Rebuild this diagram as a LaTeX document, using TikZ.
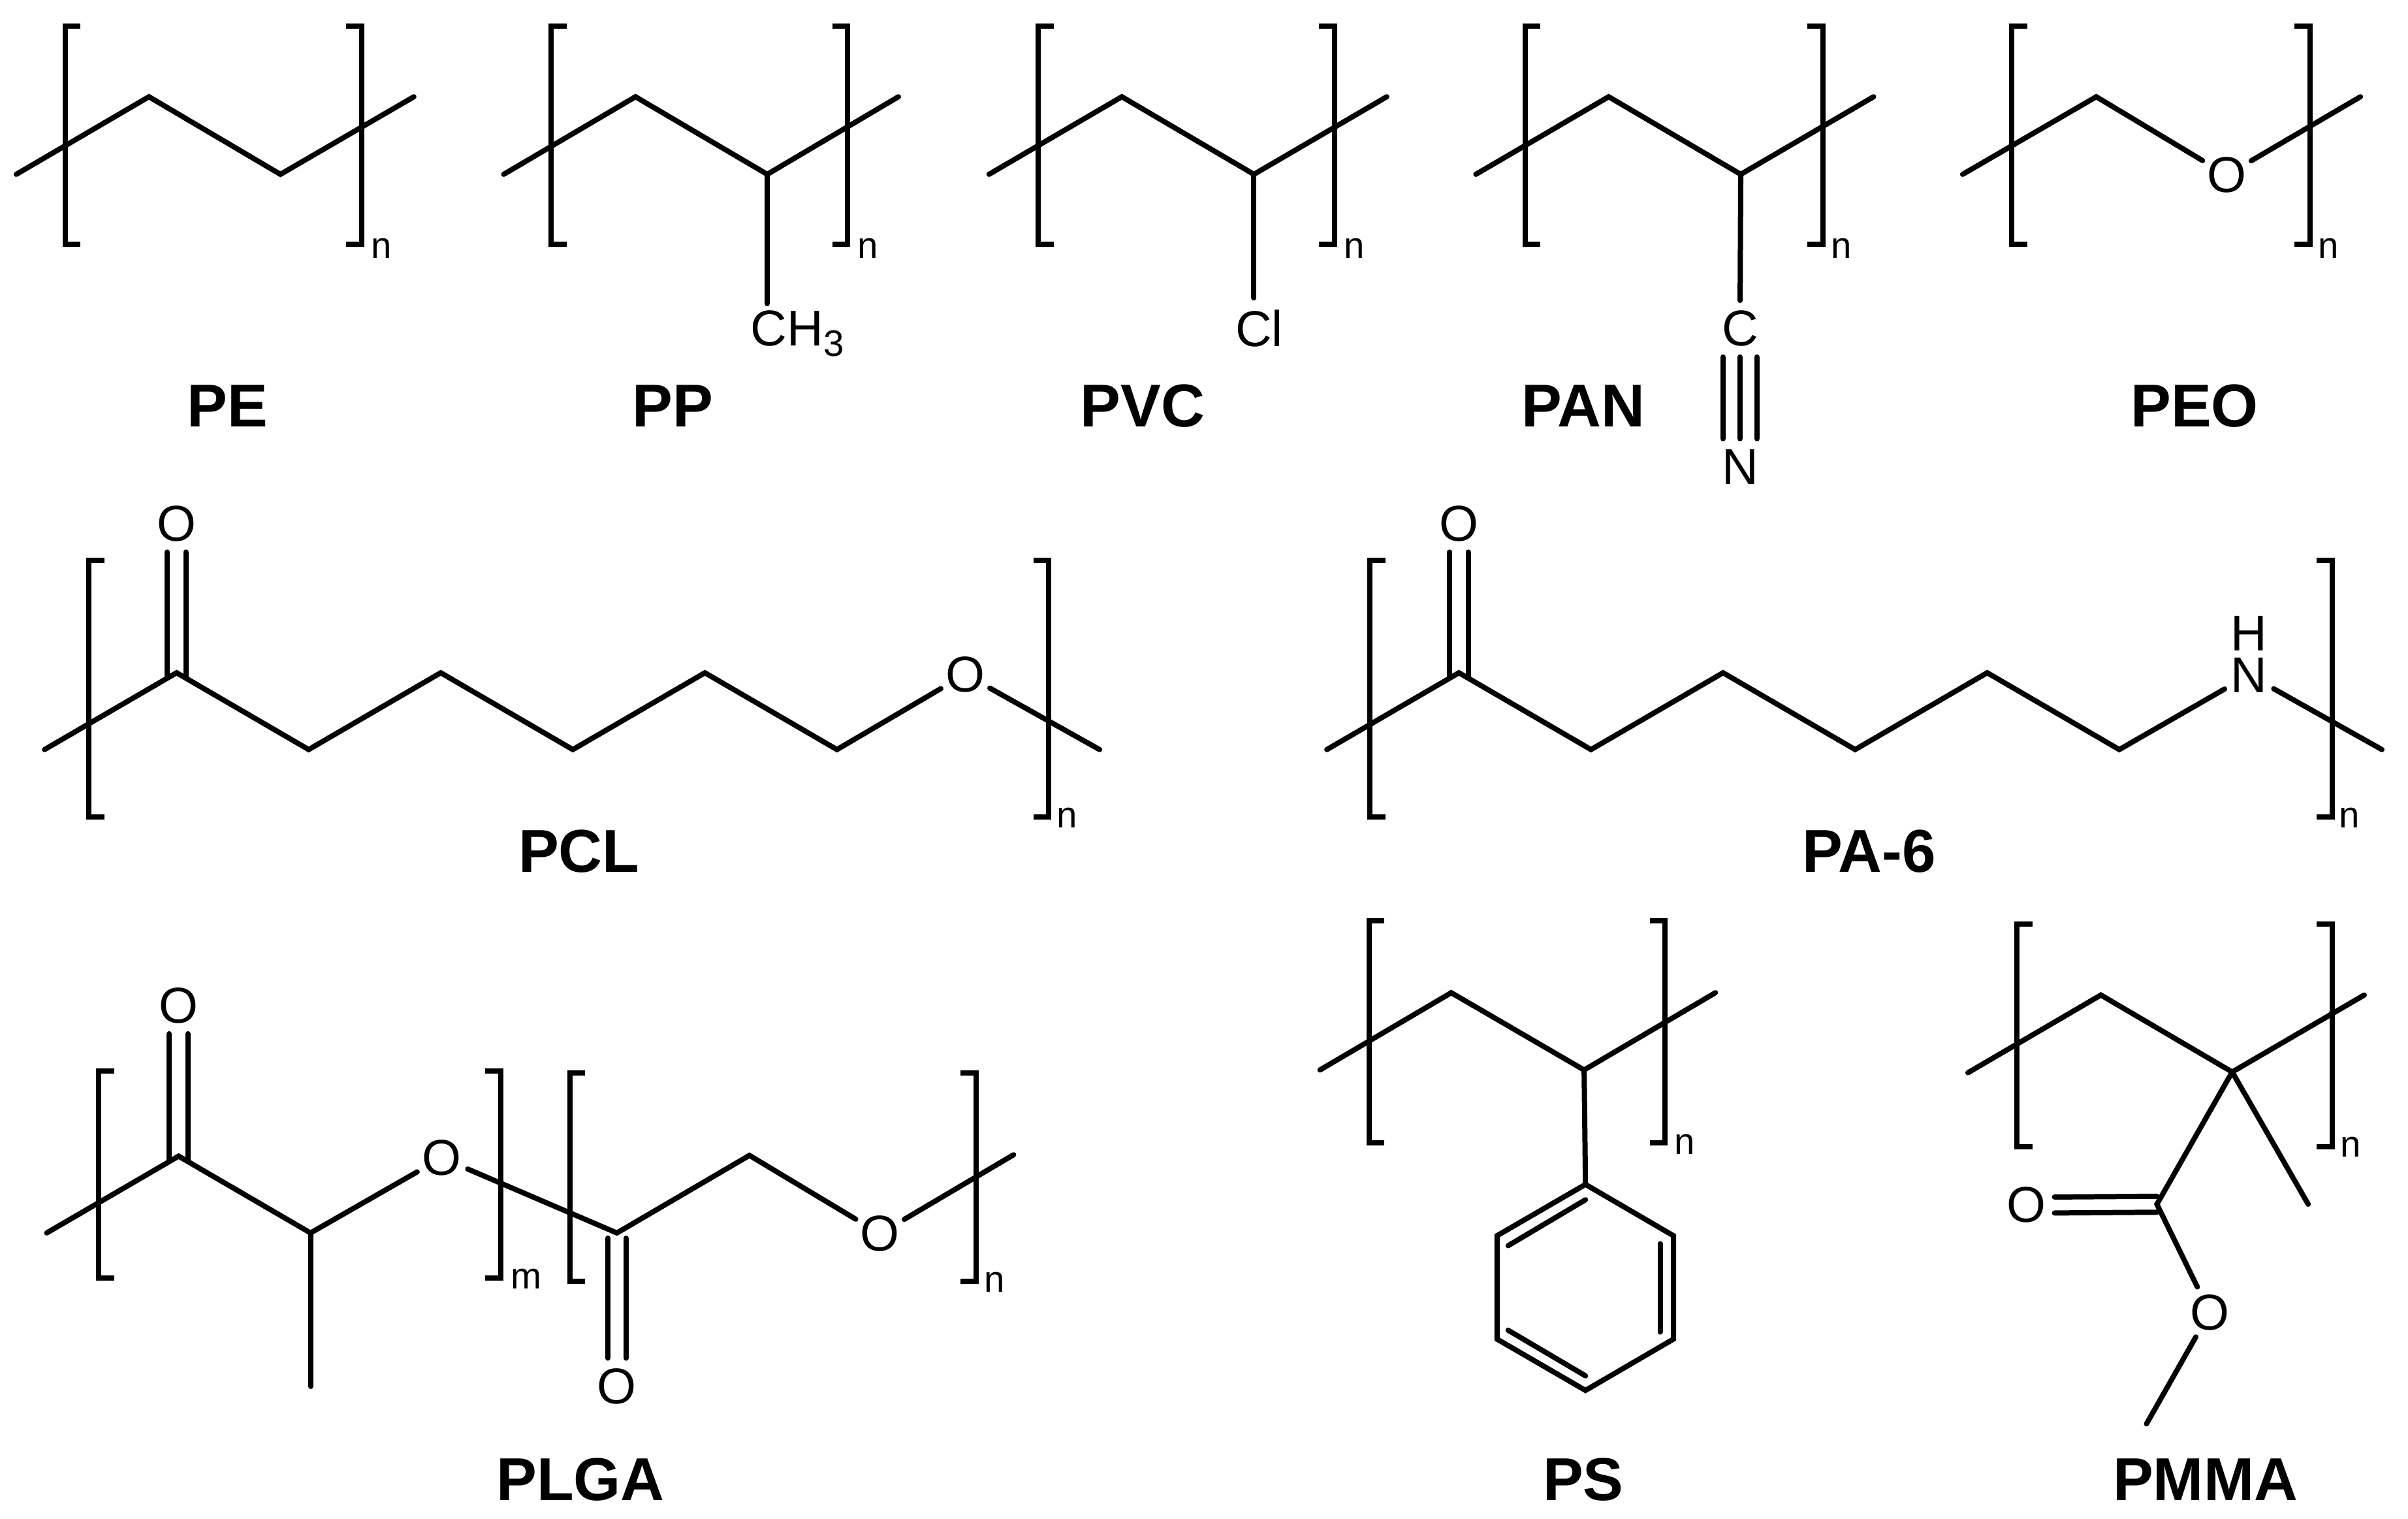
\documentclass[tikz,border=0pt]{standalone}
\usepackage{fontspec}
\setmainfont{Liberation Sans}
\newcommand{\brk}[4]{\draw[bracket] ({#1+#4},#2) -- (#1,#2) -- (#1,#3) -- ({#1+#4},#3);}
\newcommand{\dbl}[4]{%
  \draw[bond] ([xshift=-#3pt]#1.south) -- ([xshift=-#3pt,yshift=#4pt]#2);
  \draw[bond] ([xshift=#3pt]#1.south) -- ([xshift=#3pt,yshift=#4pt]#2);}
\tikzset{
  bond/.style={line width=1.7pt,line cap=round,line join=miter,black},
  bracket/.style={line width=1.7pt,line cap=butt,line join=miter,black},
  atom/.style={circle,inner sep=0pt,minimum size=18pt,font=\fontsize{16.4}{16.4}\selectfont},
  freetext/.style={inner xsep=0pt,inner ysep=2pt,font=\fontsize{16.4}{16.4}\selectfont},
  idx/.style={inner sep=0pt,anchor=base,font=\fontsize{12}{12}\selectfont},
  polyname/.style={inner sep=0pt,anchor=base,font=\fontsize{19.7}{19.7}\selectfont\bfseries},
}
\begin{document}
\begin{tikzpicture}[x=0.5pt,y=-0.5pt]
\useasboundingbox (0,0) rectangle (1568,988.9);
% ---------- PE
\coordinate (pe1) at (10.6,113.5); \coordinate (pe2) at (97,63); \coordinate (pe3) at (182.6,113.5); \coordinate (pe4) at (269.5,63);
\draw[bond] (pe1) -- (pe2) -- (pe3) -- (pe4);
\brk{42.5}{17}{159}{10}\brk{235.5}{17}{159}{-10}
\node[idx] (nPE) at (248.5,168) {n};
\node[polyname] (lPE) at (148,278) {PE};
% ---------- PP
\coordinate (pp1) at (328,113.5); \coordinate (pp2) at (413.8,63); \coordinate (pp3) at (499.6,113.5); \coordinate (pp4) at (585,63);
\draw[bond] (pp1) -- (pp2) -- (pp3) -- (pp4);
\brk{359}{17}{159}{10}\brk{552}{17}{159}{-10}
\node[idx] (nPP) at (565,168) {n};
\node[freetext,anchor=base west] (ch3) at (488.5,225) {CH\raisebox{-3.5pt}{\fontsize{12}{12}\selectfont 3}};
\draw[bond] (pp3) -- (pp3 |- ch3.north);
\node[polyname] (lPP) at (438,278) {PP};
% ---------- PVC
\coordinate (pvc1) at (644,113.5); \coordinate (pvc2) at (730.5,63); \coordinate (pvc3) at (816.5,113.5); \coordinate (pvc4) at (903,63);
\draw[bond] (pvc1) -- (pvc2) -- (pvc3) -- (pvc4);
\brk{676}{17}{159}{10}\brk{869}{17}{159}{-10}
\node[idx] (nPVC) at (882,168) {n};
\node[atom] (cl) at (820,214) {Cl};
\draw[bond] (pvc3) -- (pvc3 |- cl.north);
\node[polyname] (lPVC) at (744,278) {PVC};
% ---------- PAN
\coordinate (pan1) at (961,113.5); \coordinate (pan2) at (1047.5,63); \coordinate (pan3) at (1133.5,113.5); \coordinate (pan4) at (1220,63);
\draw[bond] (pan1) -- (pan2) -- (pan3) -- (pan4);
\brk{993}{17}{159}{10}\brk{1187}{17}{159}{-10}
\node[idx] (nPAN) at (1199,168) {n};
\node[atom] (panC) at (1133,214) {C};
\node[atom] (panN) at (1133,304) {N};
\draw[bond] (pan3) -- (panC);
\draw[bond] (panC) -- (panN);
\draw[bond] ([xshift=-5.5pt]panC.south) -- ([xshift=-5.5pt]panN.north);
\draw[bond] ([xshift=5.5pt]panC.south) -- ([xshift=5.5pt]panN.north);
\node[polyname] (lPAN) at (1031,278) {PAN};
% ---------- PEO
\coordinate (peo1) at (1278,113.5); \coordinate (peo2) at (1365,63); \coordinate (peo4) at (1537,63);
\node[atom] (peoO) at (1450,114) {O};
\draw[bond] (peo1) -- (peo2) -- (peoO);
\draw[bond] (peoO) -- (peo4);
\brk{1310}{17}{159}{10}\brk{1504}{17}{159}{-10}
\node[idx] (nPEO) at (1516,168) {n};
\node[polyname] (lPEO) at (1429,278) {PEO};
% ---------- PCL
\coordinate (pcl1) at (29,488); \coordinate (pcl2) at (115,438); \coordinate (pcl3) at (201,488); \coordinate (pcl4) at (287,438);
\coordinate (pcl5) at (373,488); \coordinate (pcl6) at (459,438); \coordinate (pcl7) at (545,488); \coordinate (pcl8) at (716,488);
\node[atom] (pclO) at (628.5,439) {O};
\node[atom] (pclOd) at (115,341) {O};
\draw[bond] (pcl1) -- (pcl2) -- (pcl3) -- (pcl4) -- (pcl5) -- (pcl6) -- (pcl7) -- (pclO);
\draw[bond] (pclO) -- (pcl8);
\dbl{pclOd}{pcl2}{3}{-1.7}
\brk{58}{365}{532}{10}\brk{683}{365}{532}{-10}
\node[idx] (nPCL) at (695,539) {n};
\node[polyname] (lPCL) at (377,568) {PCL};
% ---------- PA-6
\coordinate (pa1) at (864,488); \coordinate (pa2) at (950,438); \coordinate (pa3) at (1036,488); \coordinate (pa4) at (1122,438);
\coordinate (pa5) at (1208,488); \coordinate (pa6) at (1294,438); \coordinate (pa7) at (1380,488); \coordinate (pa8) at (1551,488);
\node[atom] (paN) at (1464.5,439.4) {N};
\node[atom] (paH) at (1464.5,412.2) {H};
\node[atom] (paOd) at (950,341) {O};
\draw[bond] (pa1) -- (pa2) -- (pa3) -- (pa4) -- (pa5) -- (pa6) -- (pa7) -- (paN);
\draw[bond] (paN) -- (pa8);
\dbl{paOd}{pa2}{3}{-1.7}
\brk{892}{365}{532}{10}\brk{1518.5}{365}{532}{-10}
\node[idx] (nPA) at (1530,539) {n};
\node[polyname] (lPA) at (1217,568) {PA-6};
% ---------- PLGA
\coordinate (pl1) at (30.4,802.7); \coordinate (pl2) at (116.3,752.7); \coordinate (pl3) at (202.2,802.7);
\coordinate (pl4) at (401.7,802.7); \coordinate (pl5) at (488,752.2); \coordinate (pl6) at (660,751.8); \coordinate (plMe) at (202.2,902.6);
\node[atom] (plO1) at (287.6,753.8) {O};
\node[atom] (plO2) at (573,803.2) {O};
\node[atom] (plOt) at (116.3,654.6) {O};
\node[atom] (plOb) at (401.7,902.6) {O};
\draw[bond] (pl1) -- (pl2) -- (pl3) -- (plO1);
\draw[bond] (pl3) -- (plMe);
\draw[bond] (plO1) -- (pl4) -- (pl5) -- (plO2);
\draw[bond] (plO2) -- (pl6);
\dbl{plOt}{pl2}{3}{-1.7}
\draw[bond] ([xshift=-3pt]plOb.north) -- ([xshift=-3pt,yshift=-1.7pt]pl4);
\draw[bond] ([xshift=3pt]plOb.north) -- ([xshift=3pt,yshift=-1.7pt]pl4);
\brk{64.2}{697.3}{831.9}{10}\brk{326}{697.3}{831.9}{-10}
\brk{371}{698.4}{834}{10}\brk{635.6}{698.4}{834}{-10}
\node[idx] (mPL) at (342.7,839) {m};
\node[idx] (nPL) at (647.7,841) {n};
\node[polyname] (lPL) at (378,977) {PLGA};
% ---------- PS
\coordinate (ps1) at (859.5,696.6); \coordinate (ps2) at (945,646.3); \coordinate (ps3) at (1031.5,696.6); \coordinate (ps4) at (1117,646.3);
\coordinate (r1) at (1032.4,771.1); \coordinate (r2) at (1089.7,804.5); \coordinate (r3) at (1089.7,871.8);
\coordinate (r4) at (1032.4,905.2); \coordinate (r5) at (974.8,871.8); \coordinate (r6) at (974.8,804.5);
\coordinate (ia1) at (982,811); \coordinate (ia2) at (1032.4,781.1);
\coordinate (ib1) at (1081,809.7); \coordinate (ib2) at (1081,867.2);
\coordinate (ic1) at (982,866); \coordinate (ic2) at (1032.4,895.7);
\draw[bond] (ps1) -- (ps2) -- (ps3) -- (ps4);
\draw[bond] (ps3) -- (r1);
\draw[bond] (r1) -- (r2) -- (r3) -- (r4) -- (r5) -- (r6) -- cycle;
\draw[bond] (ia1) -- (ia2);
\draw[bond] (ib1) -- (ib2);
\draw[bond] (ic1) -- (ic2);
\brk{891.5}{599.5}{744}{10}\brk{1084.2}{599.5}{744}{-10}
\node[idx] (nPS) at (1097,751.6) {n};
\node[polyname] (lPS) at (1031,977) {PS};
% ---------- PMMA
\coordinate (pm1) at (1281.4,698.4); \coordinate (pm2) at (1368,647.8); \coordinate (pm3) at (1453.5,697.9); \coordinate (pm4) at (1539.5,647.8);
\coordinate (pmMe) at (1503,784); \coordinate (pmC) at (1404.5,784); \coordinate (pmEnd) at (1397.7,927);
\node[atom] (pmOd) at (1319.4,784.5) {O};
\node[atom] (pmO) at (1438.9,854.4) {O};
\draw[bond] (pm1) -- (pm2) -- (pm3) -- (pm4);
\draw[bond] (pm3) -- (pmMe);
\draw[bond] (pm3) -- (pmC) -- (pmO);
\draw[bond] (pmO) -- (pmEnd);
\draw[bond] ([yshift=2.6pt]pmOd.east) -- ([yshift=2.6pt]pmC);
\draw[bond] ([yshift=-2.6pt]pmOd.east) -- ([yshift=-2.6pt]pmC);
\brk{1313.5}{601.6}{746.5}{10}\brk{1518.5}{601.6}{746.5}{-10}
\node[idx] (nPM) at (1530.8,753) {n};
\node[polyname] (lPM) at (1436,977) {PMMA};
\end{tikzpicture}
\end{document}
